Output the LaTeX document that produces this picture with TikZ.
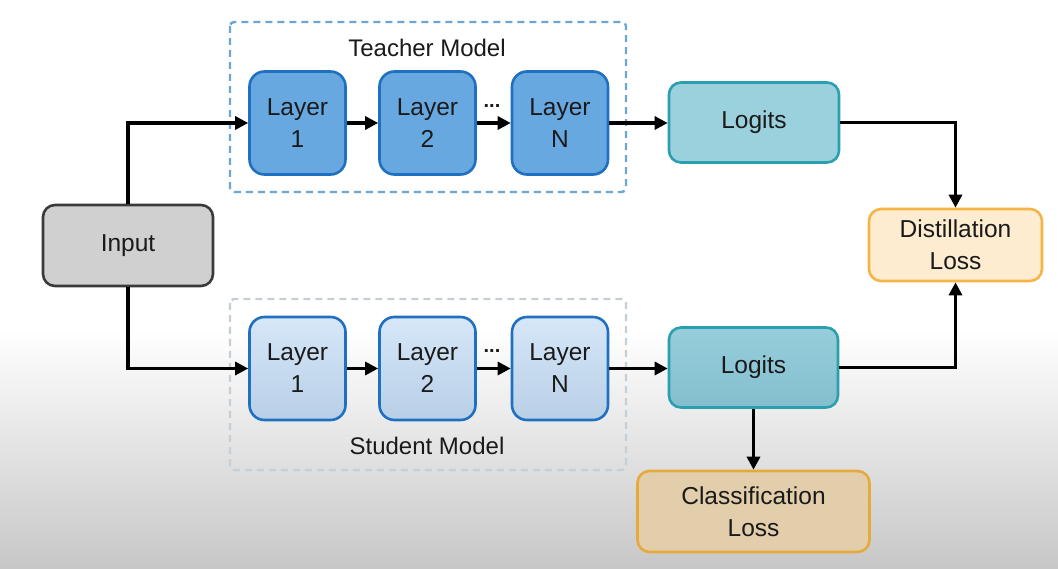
\documentclass[tikz,border=0pt]{standalone}
\usepackage{fontspec}
\setmainfont{Liberation Sans}
\usetikzlibrary{arrows.meta,shapes.misc}
\definecolor{tfill}{HTML}{68A8E0}
\definecolor{tline}{HTML}{1F70C1}
\definecolor{sfilltop}{HTML}{D6E7F8}
\definecolor{sfillbot}{HTML}{B8CFE7}
\definecolor{logfill}{HTML}{9BD0DD}
\definecolor{logline}{HTML}{2A9FB0}
\definecolor{slogtop}{HTML}{96CEDB}
\definecolor{slogbot}{HTML}{84BECD}
\definecolor{distfill}{HTML}{FDECCF}
\definecolor{distline}{HTML}{F4B446}
\definecolor{clsfill}{HTML}{E2CEAA}
\definecolor{clsline}{HTML}{E6A93C}
\definecolor{infill}{HTML}{D0D0D0}
\definecolor{inline}{HTML}{3A3A3A}
\definecolor{tdash}{HTML}{6AA6D6}
\definecolor{sdash}{HTML}{C6CED6}
\definecolor{txt}{HTML}{1A1A1A}
\begin{document}
\begin{tikzpicture}[x=1pt,y=-1pt,
  box/.style={draw, line width=2.6pt, rounded corners=13pt, align=center,
    font=\fontsize{24.5}{32}\selectfont, text=txt, inner sep=0pt},
  tlayer/.style={box, fill=tfill, draw=tline, minimum width=96pt, minimum height=103pt, rounded corners=15pt},
  slayer/.style={box, top color=sfilltop, bottom color=sfillbot, draw=tline, minimum width=96pt, minimum height=103pt, rounded corners=15pt},
  conn/.style={line width=3.1pt, line join=miter, -{Triangle[length=13pt,width=13pt]}},
  grp/.style={line width=2.4pt, dash pattern=on 7pt off 5pt, rounded corners=4pt},
  lbl/.style={font=\fontsize{24}{28}\selectfont, text=txt, inner sep=0pt},
  dots/.style={font=\bfseries\fontsize{20}{20}\selectfont, text=txt, inner sep=0pt}
]
\useasboundingbox (0,0) rectangle (1058,569);
\fill[white] (0,0) rectangle (1058,569);
\shade[top color=white, bottom color=black!22] (0,330) rectangle (1058,569);

% groups
\draw[grp, draw=tdash] (230,22) rectangle (626,192);
\draw[grp, draw=sdash] (230,299) rectangle (626,470);
\node[lbl] (tlab) at (427,48) {Teacher Model};
\node[lbl] (slab) at (427,446) {Student Model};

% input
\node[box, fill=infill, draw=inline, minimum width=170pt, minimum height=81pt, rounded corners=12pt] (in) at (128,245.5) {Input};

% teacher
\node[tlayer] (t1) at (297.5,123) {Layer\\1};
\node[tlayer] (t2) at (427.5,123) {Layer\\2};
\node[tlayer] (tn) at (560,123) {Layer\\N};
\node[dots] (tdots) at (492,106) {...};

% student
\node[slayer] (s1) at (297.5,368.5) {Layer\\1};
\node[slayer] (s2) at (427.5,368.5) {Layer\\2};
\node[slayer] (sn) at (560,368.5) {Layer\\N};
\node[dots] (sdots) at (492,351) {...};

% logits
\node[box, fill=logfill, draw=logline, minimum width=170pt, minimum height=80pt, rounded corners=12pt] (tlog) at (754,122.5) {Logits};
\node[box, top color=slogtop, bottom color=slogbot, draw=logline, minimum width=169pt, minimum height=80pt, rounded corners=12pt] (slog) at (753.5,367.5) {Logits};

% losses
\node[box, fill=distfill, draw=distline, minimum width=173pt, minimum height=72pt, rounded corners=12pt] (dist) at (955.5,245) {Distillation\\Loss};
\node[box, fill=clsfill, draw=clsline, minimum width=232pt, minimum height=81pt, rounded corners=12pt] (cls) at (753.5,511.5) {Classification\\Loss};

% connectors
\draw[conn] (in.north) |- (t1.west);
\draw[conn] (in.south) |- (s1.west);
\draw[conn] (t1.east) -- (t2.west);
\draw[conn] (t2.east) -- (tn.west);
\draw[conn] (s1.east) -- (s2.west);
\draw[conn] (s2.east) -- (sn.west);
\draw[conn] (tn.east) -- (tn.east -| tlog.west);
\draw[conn] (sn.east) -- (sn.east -| slog.west);
\draw[conn] (tlog.east) -| (dist.north);
\draw[conn] (slog.east) -| (dist.south);
\draw[conn] (slog.south) -- (slog.south |- cls.north);
\end{tikzpicture}
\end{document}
